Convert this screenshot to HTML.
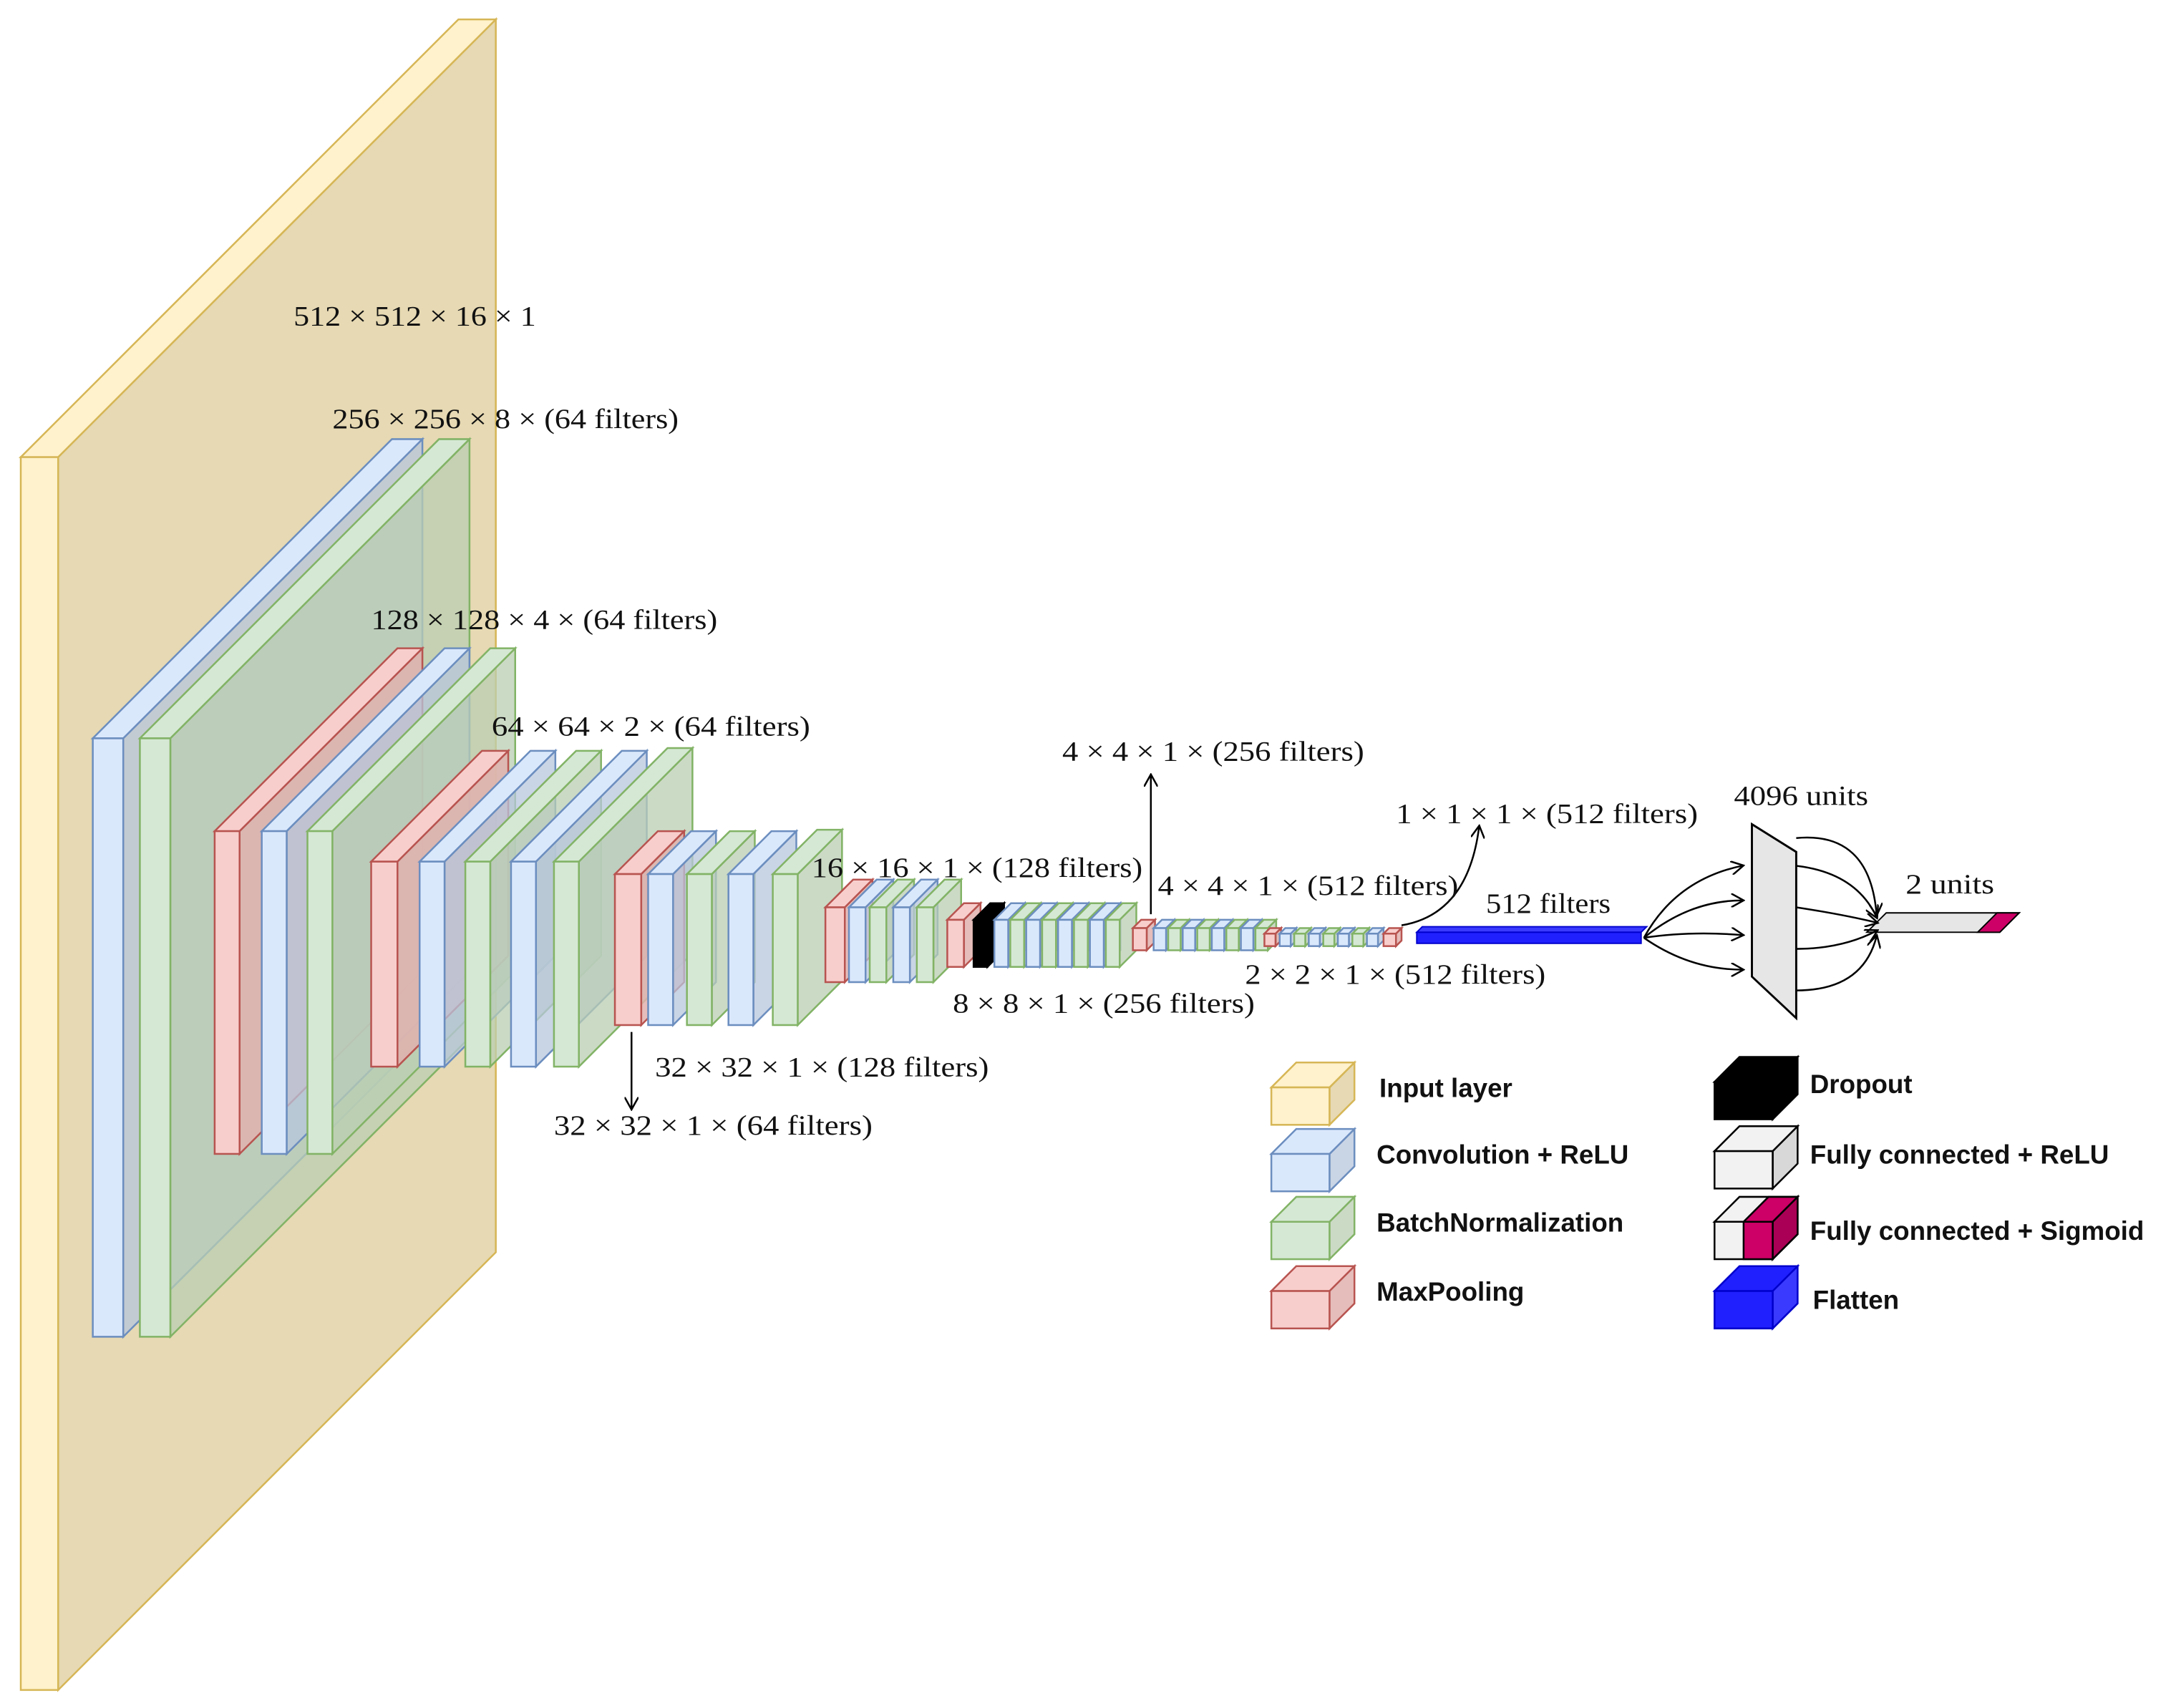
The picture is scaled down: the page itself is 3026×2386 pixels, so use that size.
<!DOCTYPE html>
<html><head><meta charset="utf-8">
<style>
html,body{margin:0;padding:0;background:#fff;}
svg{display:block;}
.m{font-family:"Liberation Serif",serif;font-size:20px;fill:#111;}
.l{font-family:"Liberation Sans",sans-serif;font-size:19px;font-weight:bold;fill:#111;}
</style></head>
<body>
<svg id="s" width="3026" height="2386" viewBox="0 0 1564 1233" preserveAspectRatio="none" xmlns="http://www.w3.org/2000/svg">
<defs>
<marker id="ar" markerWidth="10" markerHeight="10" refX="8" refY="5" orient="auto" markerUnits="userSpaceOnUse">
<path d="M0,0 L9,5 L0,10" fill="none" stroke="#000" stroke-width="1.3"/></marker>
</defs>
<g id="boxes"></g>
<polygon points="1023,673 1027,669 1189,669 1185,673" fill="#3a3aff" stroke="#0000cc"/>
<rect x="1023" y="673" width="162" height="8" fill="#2020ff" stroke="#0000cc"/>
<polygon points="1265,595 1297,615 1297,735 1265,705" fill="#e6e6e6" stroke="#000" stroke-width="1.5"/>
<polygon points="1348,673 1362,659 1458,659 1444,673" fill="#e6e6e6" stroke="#000"/>
<polygon points="1428,673 1442,659 1458,659 1444,673" fill="#cc0066" stroke="#000"/>
<g fill="none" stroke="#000" stroke-width="1.3" marker-end="url(#ar)">
<path d="M456,745 L456,800"/>
<path d="M831,660 L831,560"/>
<path d="M1012,668 Q1060,660 1068,597"/>
<path d="M1187,677 Q1210,635 1258,625"/>
<path d="M1187,677 Q1220,650 1258,650"/>
<path d="M1187,677 Q1220,672 1258,675"/>
<path d="M1187,677 Q1220,700 1258,700"/>
<path d="M1297,625 Q1340,630 1355,662"/>
<path d="M1297,655 Q1330,660 1355,666"/>
<path d="M1297,685 Q1330,685 1355,672"/>
<path d="M1297,715 Q1345,715 1355,676"/>
<path d="M1297,605 Q1350,600 1355,660"/>
</g>
<g lengthAdjust="spacingAndGlyphs">
<text class="m" x="212" y="235" textLength="175" lengthAdjust="spacingAndGlyphs">512 × 512 × 16 × 1</text>
<text class="m" x="240" y="309" textLength="250" lengthAdjust="spacingAndGlyphs">256 × 256 × 8 × (64 filters)</text>
<text class="m" x="268" y="454" textLength="250" lengthAdjust="spacingAndGlyphs">128 × 128 × 4 × (64 filters)</text>
<text class="m" x="355" y="531" textLength="230" lengthAdjust="spacingAndGlyphs">64 × 64 × 2 × (64 filters)</text>
<text class="m" x="586" y="633" textLength="239" lengthAdjust="spacingAndGlyphs">16 × 16 × 1 × (128 filters)</text>
<text class="m" x="767" y="549" textLength="218" lengthAdjust="spacingAndGlyphs">4 × 4 × 1 × (256 filters)</text>
<text class="m" x="1008" y="594" textLength="218" lengthAdjust="spacingAndGlyphs">1 × 1 × 1 × (512 filters)</text>
<text class="m" x="836" y="646" textLength="217" lengthAdjust="spacingAndGlyphs">4 × 4 × 1 × (512 filters)</text>
<text class="m" x="1073" y="659" textLength="90" lengthAdjust="spacingAndGlyphs">512 filters</text>
<text class="m" x="1252" y="581" textLength="97" lengthAdjust="spacingAndGlyphs">4096 units</text>
<text class="m" x="1376" y="645" textLength="64" lengthAdjust="spacingAndGlyphs">2 units</text>
<text class="m" x="688" y="731" textLength="218" lengthAdjust="spacingAndGlyphs">8 × 8 × 1 × (256 filters)</text>
<text class="m" x="899" y="710" textLength="217" lengthAdjust="spacingAndGlyphs">2 × 2 × 1 × (512 filters)</text>
<text class="m" x="473" y="777" textLength="241" lengthAdjust="spacingAndGlyphs">32 × 32 × 1 × (128 filters)</text>
<text class="m" x="400" y="819" textLength="230" lengthAdjust="spacingAndGlyphs">32 × 32 × 1 × (64 filters)</text>
</g>
<text class="l" x="996" y="792">Input layer</text>
<text class="l" x="994" y="840">Convolution + ReLU</text>
<text class="l" x="994" y="889">BatchNormalization</text>
<text class="l" x="994" y="939">MaxPooling</text>
<text class="l" x="1307" y="789">Dropout</text>
<text class="l" x="1307" y="840">Fully connected + ReLU</text>
<text class="l" x="1307" y="895">Fully connected + Sigmoid</text>
<text class="l" x="1309" y="945">Flatten</text>
</svg>
<script>
var C={y:["#fff2cc","#e6d9b3","#d6b656",1],b:["#dae8fc","#b7c6dc","#6c8ebf",0.75],g:["#d5e8d4","#b9ceb2","#82b366",0.75],r:["#f8cecc","#e0b2ae","#b85450",0.85],k:["#000","#000","#000",1],w:["#f2f2f2","#d8d8d8","#000",1],m:["#cc0066","#aa0055","#000",1],f:["#2020ff","#3a3aff","#0000cc",1]};
var g=document.getElementById("boxes"),h="";
function B(x,y,w,hh,d,t){var c=C[t];
h+='<polygon points="'+(x+w)+','+y+' '+(x+w+d)+','+(y-d)+' '+(x+w+d)+','+(y+hh-d)+' '+(x+w)+','+(y+hh)+'" fill="'+c[1]+'" fill-opacity="'+c[3]+'" stroke="'+c[2]+'" stroke-width="1.3"/>';
h+='<polygon points="'+x+','+y+' '+(x+w)+','+y+' '+(x+w+d)+','+(y-d)+' '+(x+d)+','+(y-d)+'" fill="'+c[0]+'" stroke="'+c[2]+'" stroke-width="1.3"/>';
h+='<rect x="'+x+'" y="'+y+'" width="'+w+'" height="'+hh+'" fill="'+c[0]+'" stroke="'+c[2]+'" stroke-width="1.3"/>';}
B(15,330,27,890,316,"y");
B(67,533,22,432,216,"b");B(101,533,22,432,216,"g");
B(155,600,18,233,132,"r");B(189,600,18,233,132,"b");B(222,600,18,233,132,"g");
B(268,622,19,148,80,"r");B(303,622,18,148,80,"b");B(336,622,18,148,80,"g");B(369,622,18,148,80,"b");B(400,622,18,148,82,"g");
B(444,631,19,109,31,"r");B(468,631,18,109,31,"b");B(496,631,18,109,31,"g");B(526,631,18,109,31,"b");B(558,631,18,109,32,"g");
var s5=["r","b","g","b","g","g"];var x5=[596,613,628,645,662,675];for(var i=0;i<5;i++)B(x5[i],655,i?12:14,54,20,s5[i]);
B(684,664,12,34,12,"r");B(703,664,10,34,12,"k");
var s6="bgbgbgbg";for(i=0;i<8;i++)B(718+i*11.5,664,10,34,12,s6[i]);
B(818,670,10,16,6,"r");for(i=0;i<8;i++)B(833+i*10.5,670,9,16,6,s6[i]);
B(913,674,8,9,4,"r");for(i=0;i<7;i++)B(924+i*10.5,674,8,9,4,s6[i]);B(999,674,9,9,4,"r");
function L(x,y,t,t2){B(x,y,42,27,18,t);if(t2){B(x+21,y,21,27,18,t2);}}
L(918,785,"y");L(918,833,"b");L(918,882,"g");L(918,932,"r");
L(1238,781,"k");L(1238,831,"w");L(1238,882,"w","m");L(1238,932,"f");
g.innerHTML=h;
</script>
</body></html>
